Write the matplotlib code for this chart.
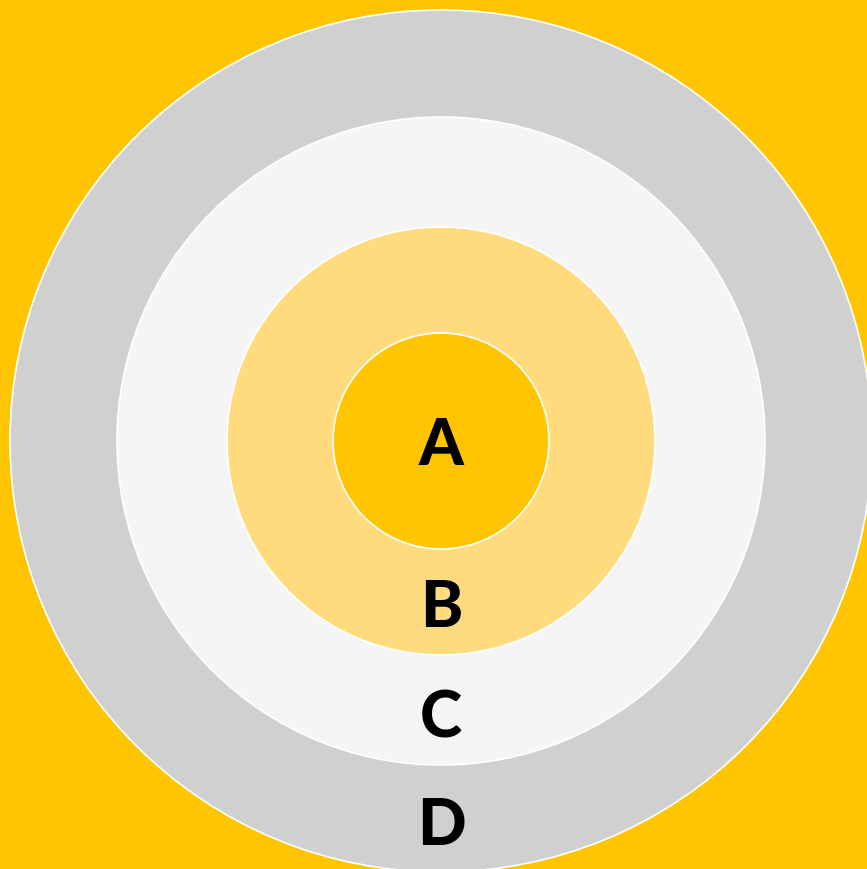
import matplotlib.pyplot as plt
from matplotlib.patches import Circle

# ring labels, innermost first, and outer radius of each ring (pixels)
labels = ["A", "B", "C", "D"]
radii = [108, 214, 324, 431]
label_baseline = [465, 627, 738, 845]
colors = ["#FFC500", "#FFDB7D", "#F5F5F5", "#D0D0D0"]

background = "#FFC500"
center = (441, 442)

fig = plt.figure(figsize=(8.67, 8.70), dpi=100)
fig.patch.set_facecolor(background)
ax = fig.add_axes([0, 0, 1, 1])
ax.set_facecolor(background)
ax.set_xlim(0, 867)
ax.set_ylim(870, 0)
ax.set_aspect("equal")
ax.axis("off")

# draw from the outside in so inner rings sit on top
for r, c in reversed(list(zip(radii, colors))):
    ax.add_patch(Circle(center, r, facecolor=c, edgecolor="white", lw=1.2))

for lab, y in zip(labels, label_baseline):
    ax.text(center[0], y, lab, ha="center", va="baseline", fontsize=46,
            fontweight="black", family=["Lato", "DejaVu Sans"], color="black")

fig.savefig("out.png", dpi=100, facecolor=background)
